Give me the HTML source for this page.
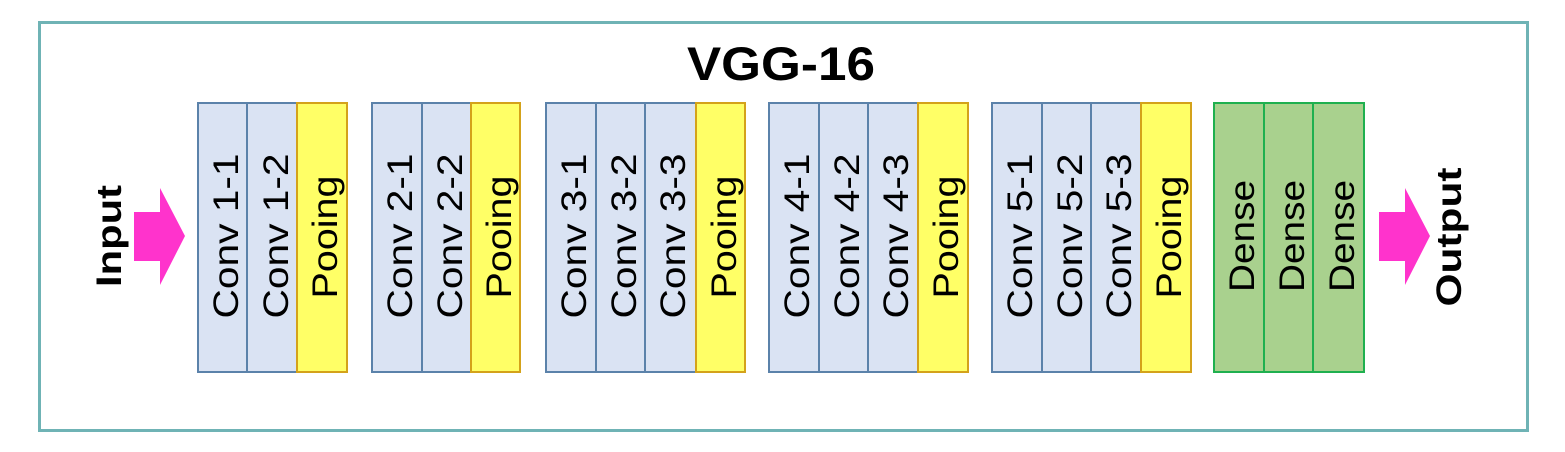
<!DOCTYPE html>
<html><head><meta charset="utf-8"><style>html,body{margin:0;padding:0;background:#fff}svg{display:block}</style></head>
<body>
<svg width="1565" height="452" viewBox="0 0 1565 452" xmlns="http://www.w3.org/2000/svg" font-family="Liberation Sans, DejaVu Sans, sans-serif">
<rect x="0" y="0" width="1565" height="452" fill="#fff"/>
<rect x="39.5" y="22.5" width="1488" height="408" fill="#fff" stroke="#6fb3b5" stroke-width="3"/>
<text x="781" y="80" text-anchor="middle" font-size="47" font-weight="bold" textLength="188" lengthAdjust="spacingAndGlyphs">VGG-16</text>
<g stroke-width="2">
<rect x="198" y="103" width="49" height="269" fill="#dae3f3" stroke="#5b82aa"/>
<rect x="247" y="103" width="50" height="269" fill="#dae3f3" stroke="#5b82aa"/>
<rect x="297" y="103" width="50" height="269" fill="#ffff66" stroke="#d4a21a"/>
<rect x="372" y="103" width="50" height="269" fill="#dae3f3" stroke="#5b82aa"/>
<rect x="422" y="103" width="49" height="269" fill="#dae3f3" stroke="#5b82aa"/>
<rect x="471" y="103" width="49" height="269" fill="#ffff66" stroke="#d4a21a"/>
<rect x="546" y="103" width="50" height="269" fill="#dae3f3" stroke="#5b82aa"/>
<rect x="596" y="103" width="49" height="269" fill="#dae3f3" stroke="#5b82aa"/>
<rect x="645" y="103" width="51" height="269" fill="#dae3f3" stroke="#5b82aa"/>
<rect x="696" y="103" width="49" height="269" fill="#ffff66" stroke="#d4a21a"/>
<rect x="769" y="103" width="50" height="269" fill="#dae3f3" stroke="#5b82aa"/>
<rect x="819" y="103" width="49" height="269" fill="#dae3f3" stroke="#5b82aa"/>
<rect x="868" y="103" width="50" height="269" fill="#dae3f3" stroke="#5b82aa"/>
<rect x="918" y="103" width="50" height="269" fill="#ffff66" stroke="#d4a21a"/>
<rect x="992" y="103" width="50" height="269" fill="#dae3f3" stroke="#5b82aa"/>
<rect x="1042" y="103" width="49" height="269" fill="#dae3f3" stroke="#5b82aa"/>
<rect x="1091" y="103" width="50" height="269" fill="#dae3f3" stroke="#5b82aa"/>
<rect x="1141" y="103" width="50" height="269" fill="#ffff66" stroke="#d4a21a"/>
<rect x="1214" y="103" width="50" height="269" fill="#a9d18e" stroke="#1fb04f"/>
<rect x="1264" y="103" width="49" height="269" fill="#a9d18e" stroke="#1fb04f"/>
<rect x="1313" y="103" width="51" height="269" fill="#a9d18e" stroke="#1fb04f"/>
</g>
<g font-size="35" fill="#000" text-anchor="middle">
<text transform="translate(238,236) rotate(-90)" textLength="165" lengthAdjust="spacingAndGlyphs">Conv 1-1</text>
<text transform="translate(288,236) rotate(-90)" textLength="165" lengthAdjust="spacingAndGlyphs">Conv 1-2</text>
<text transform="translate(337,237) rotate(-90)" textLength="123" lengthAdjust="spacingAndGlyphs">Pooing</text>
<text transform="translate(412,236) rotate(-90)" textLength="165" lengthAdjust="spacingAndGlyphs">Conv 2-1</text>
<text transform="translate(462,236) rotate(-90)" textLength="165" lengthAdjust="spacingAndGlyphs">Conv 2-2</text>
<text transform="translate(511,237) rotate(-90)" textLength="123" lengthAdjust="spacingAndGlyphs">Pooing</text>
<text transform="translate(586,236) rotate(-90)" textLength="165" lengthAdjust="spacingAndGlyphs">Conv 3-1</text>
<text transform="translate(636,236) rotate(-90)" textLength="165" lengthAdjust="spacingAndGlyphs">Conv 3-2</text>
<text transform="translate(685,236) rotate(-90)" textLength="165" lengthAdjust="spacingAndGlyphs">Conv 3-3</text>
<text transform="translate(736,237) rotate(-90)" textLength="123" lengthAdjust="spacingAndGlyphs">Pooing</text>
<text transform="translate(809,236) rotate(-90)" textLength="165" lengthAdjust="spacingAndGlyphs">Conv 4-1</text>
<text transform="translate(859,236) rotate(-90)" textLength="165" lengthAdjust="spacingAndGlyphs">Conv 4-2</text>
<text transform="translate(908,236) rotate(-90)" textLength="165" lengthAdjust="spacingAndGlyphs">Conv 4-3</text>
<text transform="translate(958,237) rotate(-90)" textLength="123" lengthAdjust="spacingAndGlyphs">Pooing</text>
<text transform="translate(1032,236) rotate(-90)" textLength="165" lengthAdjust="spacingAndGlyphs">Conv 5-1</text>
<text transform="translate(1082,236) rotate(-90)" textLength="165" lengthAdjust="spacingAndGlyphs">Conv 5-2</text>
<text transform="translate(1131,236) rotate(-90)" textLength="165" lengthAdjust="spacingAndGlyphs">Conv 5-3</text>
<text transform="translate(1181,237) rotate(-90)" textLength="123" lengthAdjust="spacingAndGlyphs">Pooing</text>
<text transform="translate(1254,236) rotate(-90)" textLength="112" lengthAdjust="spacingAndGlyphs">Dense</text>
<text transform="translate(1304,236) rotate(-90)" textLength="112" lengthAdjust="spacingAndGlyphs">Dense</text>
<text transform="translate(1354,236) rotate(-90)" textLength="112" lengthAdjust="spacingAndGlyphs">Dense</text>
<text transform="translate(121,236) rotate(-90)" font-weight="bold" font-size="35" textLength="102" lengthAdjust="spacingAndGlyphs">Input</text>
<text transform="translate(1461,237) rotate(-90)" font-weight="bold" font-size="35" textLength="139" lengthAdjust="spacingAndGlyphs">Output</text>
</g>
<polygon points="134,212 160,212 160,188 185,236 160,285 160,261 134,261" fill="#ff33cc"/>
<polygon points="1379,212 1405,212 1405,188 1430,236 1405,285 1405,261 1379,261" fill="#ff33cc"/>
</svg>
</body></html>
